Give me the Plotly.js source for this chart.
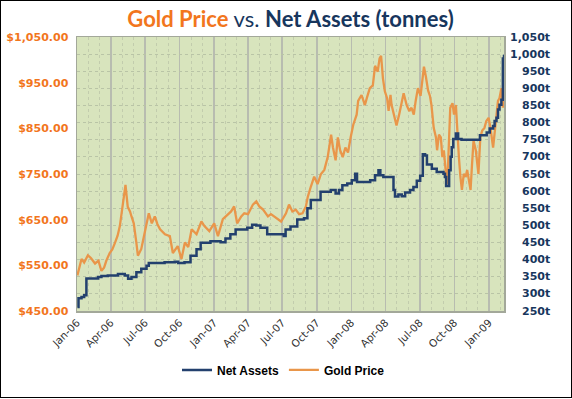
<!DOCTYPE html>
<html>
<head>
<meta charset="utf-8">
<script src="https://cdn.plot.ly/plotly-3.0.1.min.js"></script>
<style>
  html, body { margin: 0; padding: 0; background: #fff; }
  #wrap { width: 570px; height: 396px; border: 1px solid #000; }
  #chart { width: 570px; height: 396px; }
</style>
</head>
<body>
<div id="wrap"><div id="chart"></div></div>
<script>
// Net Assets (tonnes), right axis
var assetDates = ["2006-01-02","2006-01-05","2006-01-13","2006-01-20","2006-01-26","2006-02-26","2006-03-07","2006-03-24","2006-04-20","2006-05-08","2006-05-17","2006-05-26","2006-06-08","2006-06-21","2006-07-05","2006-07-11","2006-08-22","2006-09-18","2006-09-27","2006-10-14","2006-10-30","2006-11-15","2006-11-26","2006-12-22","2007-01-18","2007-01-31","2007-02-13","2007-02-27","2007-03-30","2007-04-12","2007-04-23","2007-05-04","2007-05-22","2007-06-26","2007-07-05","2007-07-10","2007-07-23","2007-08-10","2007-08-28","2007-09-06","2007-09-15","2007-10-11","2007-11-07","2007-11-20","2007-11-29","2007-12-08","2007-12-21","2008-01-02","2008-01-11","2008-01-16","2008-02-20","2008-03-04","2008-03-13","2008-03-18","2008-03-26","2008-04-18","2008-04-22","2008-04-26","2008-05-05","2008-05-14","2008-05-23","2008-06-05","2008-06-14","2008-06-23","2008-07-02","2008-07-09","2008-07-15","2008-07-20","2008-08-02","2008-08-15","2008-09-02","2008-09-06","2008-09-09","2008-09-17","2008-09-21","2008-09-24","2008-09-28","2008-10-05","2008-10-11","2008-10-20","2008-11-20","2008-12-08","2008-12-26","2009-01-03","2009-01-12","2009-01-16","2009-01-21","2009-01-25","2009-01-29","2009-02-03","2009-02-07","2009-02-10"];
var netAssets = [262,287,291,296,345,349,352,354,358,354,344,349,363,373,382,390,392,394,390,392,411,430,449,454,451,462,474,488,493,502,500,493,474,474,469,488,497,517,521,550,574,598,603,593,603,617,622,632,651,627,632,646,661,646,641,641,603,584,590,585,596,603,612,630,645,708,704,678,665,656,651,641,615,661,700,728,752,768,752,750,750,763,771,783,790,805,814,838,852,867,987,998];

// Gold Price (USD/oz), left axis
var goldDates = ["2006-01-02","2006-01-09","2006-01-13","2006-01-20","2006-01-30","2006-02-07","2006-02-18","2006-02-27","2006-03-07","2006-03-14","2006-03-20","2006-03-29","2006-04-05","2006-04-12","2006-04-19","2006-04-25","2006-05-03","2006-05-10","2006-05-16","2006-05-22","2006-05-26","2006-06-01","2006-06-08","2006-06-12","2006-06-21","2006-06-30","2006-07-11","2006-07-19","2006-07-27","2006-08-03","2006-08-10","2006-08-23","2006-09-05","2006-09-13","2006-09-26","2006-10-06","2006-10-15","2006-10-24","2006-11-02","2006-11-15","2006-11-28","2006-12-06","2006-12-19","2007-01-01","2007-01-11","2007-01-24","2007-02-06","2007-02-15","2007-02-23","2007-03-03","2007-03-14","2007-03-22","2007-04-01","2007-04-14","2007-04-23","2007-05-01","2007-05-11","2007-05-24","2007-06-01","2007-06-10","2007-06-20","2007-06-28","2007-07-11","2007-07-19","2007-07-28","2007-08-06","2007-08-15","2007-08-24","2007-09-02","2007-09-07","2007-09-15","2007-09-24","2007-10-03","2007-10-12","2007-10-21","2007-10-30","2007-11-08","2007-11-13","2007-11-20","2007-11-26","2007-12-02","2007-12-09","2007-12-16","2007-12-23","2007-12-30","2008-01-06","2008-01-15","2008-01-19","2008-01-28","2008-02-06","2008-02-11","2008-02-19","2008-02-27","2008-03-04","2008-03-11","2008-03-16","2008-03-20","2008-03-25","2008-03-30","2008-04-05","2008-04-09","2008-04-14","2008-04-17","2008-04-26","2008-04-30","2008-05-07","2008-05-13","2008-05-19","2008-05-27","2008-06-03","2008-06-09","2008-06-15","2008-06-20","2008-06-26","2008-07-03","2008-07-08","2008-07-12","2008-07-17","2008-07-23","2008-07-28","2008-08-01","2008-08-07","2008-08-13","2008-08-16","2008-08-21","2008-08-26","2008-08-30","2008-09-03","2008-09-08","2008-09-11","2008-09-14","2008-09-17","2008-09-20","2008-09-26","2008-09-30","2008-10-05","2008-10-09","2008-10-13","2008-10-17","2008-10-21","2008-10-26","2008-10-31","2008-11-04","2008-11-09","2008-11-13","2008-11-17","2008-11-21","2008-11-27","2008-11-30","2008-12-04","2008-12-09","2008-12-14","2008-12-20","2008-12-25","2008-12-31","2009-01-05","2009-01-12","2009-01-16","2009-01-21","2009-01-25","2009-01-29","2009-02-03","2009-02-07","2009-02-10"];
var goldPrice = [528,548,564,556,572,566,554,560,538,545,560,577,585,599,615,636,685,726,678,668,657,642,599,571,586,620,664,642,657,640,629,618,614,577,592,564,600,590,629,618,646,636,625,642,614,651,662,668,679,642,657,664,662,683,690,679,672,657,662,657,650,646,664,683,668,672,662,664,679,700,722,744,728,750,759,787,836,808,780,830,802,787,808,797,830,858,880,910,923,901,916,938,944,987,974,1003,1009,959,931,916,888,923,901,873,856,880,905,927,901,888,895,880,910,938,921,953,985,964,933,921,901,851,830,802,836,830,787,802,744,728,765,836,895,905,880,901,836,787,744,715,750,744,759,728,715,772,823,802,772,750,830,845,851,866,873,851,808,836,880,910,916,938,895,944];

// Axis ticks
var goldTicks = [450,550,650,750,850,950,1050];
var goldTickText = ["$450.00","$550.00","$650.00","$750.00","$850.00","$950.00","$1,050.00"];
var assetTicks = [250,300,350,400,450,500,550,600,650,700,750,800,850,900,950,1000,1050];
var assetTickText = ["250t","300t","350t","400t","450t","500t","550t","600t","650t","700t","750t","800t","850t","900t","950t","1,000t","1,050t"];
var dateTicks = ["2006-01-01","2006-04-01","2006-07-01","2006-10-01","2007-01-01","2007-04-01","2007-07-01","2007-10-01","2008-01-01","2008-04-01","2008-07-01","2008-10-01","2009-01-01"];
var dateTickText = ["Jan-06","Apr-06","Jul-06","Oct-06","Jan-07","Apr-07","Jul-07","Oct-07","Jan-08","Apr-08","Jul-08","Oct-08","Jan-09"];

var ORANGE = "#f2761d";
var NAVY = "#17365d";

var traces = [
  {
    name: "Net Assets", x: assetDates, y: netAssets, yaxis: "y2",
    type: "scatter", mode: "lines",
    line: {color: "#23406e", width: 2.5, shape: "hv"}
  },
  {
    name: "Gold Price", x: goldDates, y: goldPrice, yaxis: "y",
    type: "scatter", mode: "lines",
    line: {color: "#e9964a", width: 2.3}
  }
];

var annotations = assetTicks.map(function (v, i) {
  return {
    xref: "paper", yref: "y2", x: 1.113, y: v, xanchor: "right", yanchor: "middle",
    text: assetTickText[i], showarrow: false,
    font: {family: "DejaVu Sans", size: 11, color: NAVY, weight: "bold"}
  };
});

var layout = {
  width: 570, height: 396,
  margin: {l: 76, r: 67, t: 36, b: 81},
  paper_bgcolor: "#ffffff",
  plot_bgcolor: "#d8e4bd",
  showlegend: true,
  title: {
    text: "<b><span style='color:" + ORANGE + "'>Gold Price</span></b><span style='color:" + NAVY + "'> vs. </span><b><span style='color:" + NAVY + "'>Net Assets (tonnes)</span></b>",
    font: {family: "Lato", size: 22, color: NAVY},
    x: 0.5, xanchor: "center", xref: "paper", y: 0.955, yanchor: "middle"
  },
  xaxis: {
    type: "date",
    range: ["2006-01-01", "2009-02-10"],
    tickvals: dateTicks, ticktext: dateTickText,
    tickangle: -45,
    tickfont: {family: "DejaVu Sans", size: 10.5, color: "#333333"},
    showgrid: true, gridcolor: "#b8bcb0", gridwidth: 1.5,
    minor: {dtick: "M1", tick0: "2006-01-01", showgrid: true, gridcolor: "#c2ccad", griddash: "dot", gridwidth: 1},
    showline: true, linecolor: "#a3a89a", linewidth: 1.5, mirror: true,
    ticks: "", zeroline: false, fixedrange: true
  },
  yaxis: {
    range: [450, 1050],
    tickvals: goldTicks, ticktext: goldTickText,
    tickfont: {family: "DejaVu Sans", size: 11, color: ORANGE, weight: "bold"},
    showgrid: false, zeroline: false, ticks: "",
    ticklabelstandoff: 5,
    showline: true, linecolor: "#a3a89a", linewidth: 1.5, mirror: true
  },
  yaxis2: {
    overlaying: "y", side: "right",
    range: [250, 1050],
    tickvals: assetTicks,
    showticklabels: false,
    showgrid: true, gridcolor: "#b9c4a6", griddash: "dot", gridwidth: 1,
    zeroline: false, ticks: ""
  },
  legend: {
    orientation: "h", x: 0.4836, xanchor: "center", y: -0.215, yanchor: "middle",
    font: {family: "Liberation Sans", size: 12, color: "#000000", weight: "bold"},
    itemwidth: 30, bgcolor: "rgba(0,0,0,0)"
  },
  annotations: annotations
};

Plotly.newPlot("chart", traces, layout, {displayModeBar: false, staticPlot: true});
</script>
</body>
</html>
